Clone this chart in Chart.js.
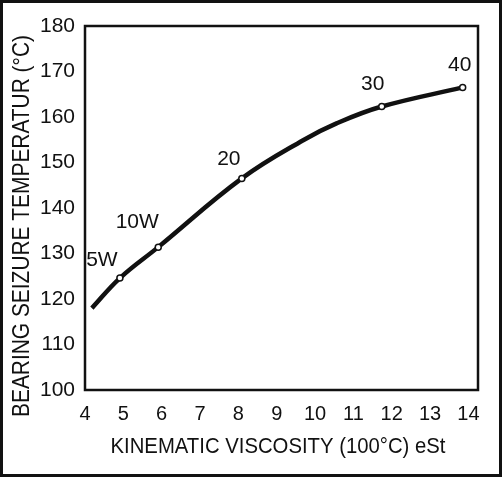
<!DOCTYPE html>
<html>
<head>
<meta charset="utf-8">
<script src="https://cdn.jsdelivr.net/npm/chart.js@4/dist/chart.umd.min.js"></script>
<style>
  html, body { margin: 0; padding: 0; background: #fff; }
  #wrap { width: 502px; height: 477px; }
</style>
</head>
<body>
<div id="wrap"><canvas id="seizureChart"></canvas></div>
<script>
// curve: viscosity (cSt) vs seizure temp (°C)
const curveX = [4.18, 4.91, 5.91, 8.09, 9.69, 10.56, 11.74, 13.85];
const curveY = [118.0, 124.6, 131.4, 146.5, 154.9, 158.6, 162.3, 166.5];

// SAE grades marked on the curve
const gradeLabels = ["5W", "10W", "20", "30", "40"];
const gradeX = [4.91, 5.91, 8.09, 11.74, 13.85];
const gradeY = [124.6, 131.4, 146.5, 162.3, 166.5];

const xTicks = [4, 5, 6, 7, 8, 9, 10, 11, 12, 13, 14];

const yTitle = "BEARING SEIZURE TEMPERATUR (\u00B0C)";
const xTitle = "KINEMATIC VISCOSITY (100\u00B0C) eSt";

// label offsets from each marker, px
const labelOffsets = [[-18, -18], [-21, -25], [-13, -19], [-9, -22], [-3, -22]];

const sans = "'Liberation Sans', Arial, sans-serif";

// squeeze text into a given width, like the condensed type of the scan
function squeezedText(ctx, text, cx, cy, width, rotate) {
  ctx.save();
  ctx.translate(cx, cy);
  if (rotate) ctx.rotate(-Math.PI / 2);
  const w = ctx.measureText(text).width;
  ctx.scale(width / w, 1);
  ctx.textAlign = "center";
  ctx.textBaseline = "middle";
  ctx.fillText(text, 0, 0);
  ctx.restore();
}

const decorPlugin = {
  id: "decor",
  afterDraw(chart) {
    const ctx = chart.ctx;
    const a = chart.chartArea;
    const xs = chart.scales.x, ys = chart.scales.y;

    // plot box
    ctx.save();
    ctx.strokeStyle = "#111";
    ctx.lineWidth = 2.5;
    ctx.strokeRect(a.left, a.top, a.right - a.left, a.bottom - a.top);

    // outer frame
    ctx.lineWidth = 3;
    ctx.strokeRect(1.5, 1.5, chart.width - 3, chart.height - 3);

    // grade labels
    ctx.fillStyle = "#111";
    ctx.font = "21px " + sans;
    ctx.textAlign = "center";
    ctx.textBaseline = "middle";
    gradeLabels.forEach((g, i) => {
      const px = xs.getPixelForValue(gradeX[i]) + labelOffsets[i][0];
      const py = ys.getPixelForValue(gradeY[i]) + labelOffsets[i][1];
      ctx.fillText(g, px, py);
    });

    // axis titles
    ctx.font = "24px " + sans;
    squeezedText(ctx, yTitle, 22, 226, 382, true);
    ctx.font = "22px " + sans;
    squeezedText(ctx, xTitle, 278, 447, 335, false);
    ctx.restore();
  }
};

new Chart(document.getElementById("seizureChart"), {
  type: "scatter",
  data: {
    datasets: [
      {
        label: "curve",
        data: curveX.map((x, i) => ({ x: x, y: curveY[i] })),
        showLine: true,
        borderColor: "#111",
        borderWidth: 4.5,
        pointRadius: 0,
        tension: 0.4,
        order: 2
      },
      {
        label: "grades",
        data: gradeX.map((x, i) => ({ x: x, y: gradeY[i] })),
        showLine: false,
        pointRadius: 3,
        pointBackgroundColor: "#fff",
        pointBorderColor: "#111",
        pointBorderWidth: 1.5,
        order: 1
      }
    ]
  },
  options: {
    responsive: true,
    maintainAspectRatio: false,
    animation: false,
    layout: { padding: { top: 26, right: 24, left: 0, bottom: 0 } },
    plugins: {
      legend: { display: false },
      tooltip: { enabled: false }
    },
    scales: {
      x: {
        type: "linear",
        min: 4,
        max: 14.25,
        afterBuildTicks: (scale) => { scale.ticks = xTicks.map(v => ({ value: v })); },
        afterFit: (scale) => { scale.height = 87; },
        grid: { display: false, drawTicks: false },
        border: { display: false },
        ticks: { color: "#111", padding: 12, font: { family: sans, size: 20 } }
      },
      y: {
        min: 100,
        max: 180,
        afterFit: (scale) => { scale.width = 85; },
        grid: { display: false, drawTicks: false },
        border: { display: false },
        ticks: { stepSize: 10, color: "#111", padding: 10, font: { family: sans, size: 21 } }
      }
    }
  },
  plugins: [decorPlugin]
});
</script>
</body>
</html>
